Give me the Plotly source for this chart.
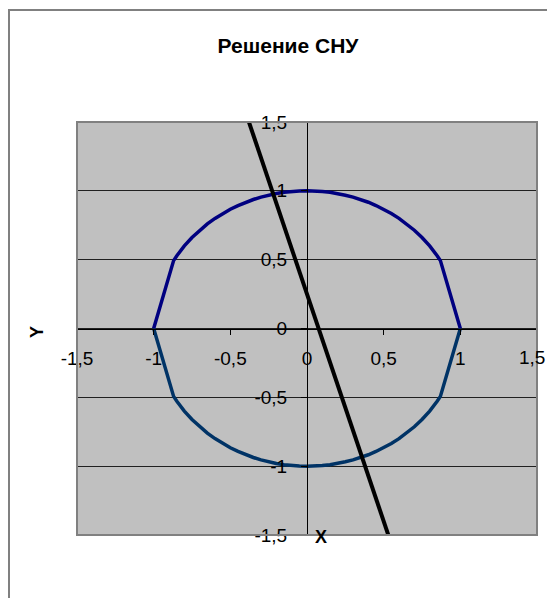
import plotly.graph_objects as go

# upper half of the circle
upper_x = [-1, -0.87, -0.85, -0.8, -0.75, -0.7, -0.65, -0.6, -0.55, -0.5, -0.45, -0.4, -0.35, -0.3, -0.25,
           -0.2, -0.15, -0.1, -0.05, 0, 0.05, 0.1, 0.15, 0.2, 0.25, 0.3, 0.35, 0.4, 0.45, 0.5, 0.55,
           0.6, 0.65, 0.7, 0.75, 0.8, 0.85, 0.87, 1]
upper_y = [0, 0.493, 0.527, 0.6, 0.661, 0.714, 0.76, 0.8, 0.835, 0.866, 0.893, 0.917, 0.937, 0.954, 0.968,
           0.98, 0.989, 0.995, 0.999, 1, 0.999, 0.995, 0.989, 0.98, 0.968, 0.954, 0.937, 0.917, 0.893, 0.866, 0.835,
           0.8, 0.76, 0.714, 0.661, 0.6, 0.527, 0.493, 0]
# lower half of the circle
lower_x = [-1, -0.87, -0.85, -0.8, -0.75, -0.7, -0.65, -0.6, -0.55, -0.5, -0.45, -0.4, -0.35, -0.3, -0.25,
           -0.2, -0.15, -0.1, -0.05, 0, 0.05, 0.1, 0.15, 0.2, 0.25, 0.3, 0.35, 0.4, 0.45, 0.5, 0.55,
           0.6, 0.65, 0.7, 0.75, 0.8, 0.85, 0.87, 1]
lower_y = [0, -0.493, -0.527, -0.6, -0.661, -0.714, -0.76, -0.8, -0.835, -0.866, -0.893, -0.917, -0.937, -0.954, -0.968,
           -0.98, -0.989, -0.995, -0.999, -1, -0.999, -0.995, -0.989, -0.98, -0.968, -0.954, -0.937, -0.917, -0.893, -0.866, -0.835,
           -0.8, -0.76, -0.714, -0.661, -0.6, -0.527, -0.493, 0]
# straight line
line_x = [-0.5, 0.6]
line_y = [1.9, -1.73]

tick_vals = [-1.5, -1, -0.5, 0, 0.5, 1, 1.5]
y_tick_text = ["-1,5", "-1", "-0,5", "0", "0,5", "1", "1,5"]
x_tick_text = ["-1,5", "-1", "-0,5", "0", "0,5", "1", ""]
x_last_label = "1,5"

OFF = 8  # page body margin
W, H = 555 - 2 * OFF, 606 - 2 * OFF
L, R, T, B = 77 - OFF, 537 - OFF, 122 - OFF, 535 - OFF

def px(x):
    return (x - OFF - L) / (R - L)

def py(y):
    return (B - (y - OFF)) / (B - T)

fig = go.Figure()
fig.add_trace(go.Scatter(x=upper_x, y=upper_y, mode="lines",
                         line=dict(color="#000080", width=3.5), showlegend=False))
fig.add_trace(go.Scatter(x=lower_x, y=lower_y, mode="lines",
                         line=dict(color="#003366", width=3.5), showlegend=False))
fig.add_trace(go.Scatter(x=line_x, y=line_y, mode="lines",
                         line=dict(color="#000000", width=4), showlegend=False))

FAM = "Liberation Sans, Arial, sans-serif"
font = dict(family=FAM, size=19, color="#000000")

shapes = [
    # plot area border
    dict(type="rect", xref="paper", yref="paper", x0=0, x1=1, y0=0, y1=1,
         line=dict(color="#808080", width=2), layer="above"),
    # chart area border
    dict(type="line", xref="paper", yref="paper", x0=px(9), x1=px(9), y0=py(10), y1=py(606),
         line=dict(color="#808080", width=2)),
    dict(type="line", xref="paper", yref="paper", x0=px(8), x1=px(555), y0=py(10), y1=py(10),
         line=dict(color="#808080", width=2)),
]

fig.update_layout(
    width=W, height=H, autosize=False,
    margin=dict(l=L, r=W - R, t=T, b=H - B),
    paper_bgcolor="#ffffff",
    plot_bgcolor="#c0c0c0",
    font=font,
    title=dict(text="<b>Решение СНУ</b>", x=(288 - OFF) / W, xanchor="center", xref="container",
               y=1 - (46 - OFF) / H, yanchor="middle", yref="container",
               font=dict(family=FAM, size=21, color="#000000")),
    xaxis=dict(range=[-1.5, 1.5], tickvals=tick_vals, ticktext=x_tick_text,
               showgrid=False, zeroline=False,
               showline=True, linecolor="#000000", linewidth=1,
               anchor="free", position=0.5, automargin=False,
               ticks="outside", ticklen=5, tickcolor="#000000", tickwidth=1,
               ticklabelstandoff=8, ticklabeloverflow="allow", tickfont=font),
    yaxis=dict(range=[-1.5, 1.5], tickvals=tick_vals, ticktext=y_tick_text,
               showgrid=True, gridcolor="#202020",
               gridwidth=1, zeroline=False,
               showline=True, linecolor="#000000", linewidth=1,
               anchor="free", position=0.5, automargin=False,
               ticks="outside", ticklen=6, tickcolor="#000000", tickwidth=1,
               ticklabelstandoff=10, ticklabeloverflow="allow", tickfont=font),
    shapes=shapes,
    annotations=[
        dict(text=x_last_label, xref="x", yref="paper", x=tick_vals[-1], y=py(357),
             showarrow=False, xanchor="right", yanchor="middle", xshift=10,
             font=font),
        dict(text="<b>Y</b>", xref="paper", yref="paper", x=px(37), y=py(332),
             showarrow=False, textangle=-90, xanchor="center", yanchor="middle",
             font=dict(family=FAM, size=18)),
        dict(text="<b>X</b>", xref="paper", yref="paper", x=px(321), y=py(537),
             showarrow=False, xanchor="center", yanchor="middle",
             font=dict(family=FAM, size=18)),
    ],
)

fig.write_html("out.html")
